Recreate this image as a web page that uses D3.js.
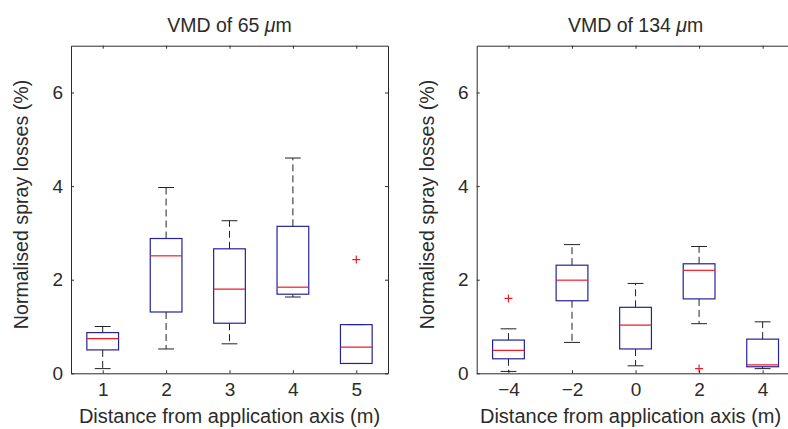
<!DOCTYPE html>
<html lang="en">
<head>
<meta charset="UTF-8">
<title>Normalised spray losses</title>
<script src="https://d3js.org/d3.v7.min.js"></script>
<style>
    body { margin: 0; background: #fff; }
    svg { display: block; font-family: "Liberation Sans", Arial, sans-serif; }
    .tick text { fill: #2b2b2b; }
</style>
</head>
<body>
<svg width="788" height="429"></svg>

<script>
    // Left panel: VMD of 65 um
    const leftPositions = [1, 2, 3, 4, 5];
    const leftLowerWhisker = [0.10, 0.52, 0.63, 1.63, 0.21];
    const leftQ1 = [0.50, 1.31, 1.07, 1.69, 0.21];
    const leftMedian = [0.74, 2.51, 1.80, 1.84, 0.56];
    const leftQ3 = [0.87, 2.88, 2.66, 3.14, 1.04];
    const leftUpperWhisker = [1.00, 3.97, 3.26, 4.60, 1.04];
    const leftOutlierX = [5];
    const leftOutlierY = [2.43];
    const leftXTicks = [1, 2, 3, 4, 5];

    // Right panel: VMD of 134 um
    const rightPositions = [-4, -2, 0, 2, 4];
    const rightLowerWhisker = [0.04, 0.66, 0.16, 1.06, 0.10];
    const rightQ1 = [0.31, 1.55, 0.52, 1.59, 0.14];
    const rightMedian = [0.49, 1.99, 1.03, 2.20, 0.18];
    const rightQ3 = [0.71, 2.31, 1.41, 2.34, 0.73];
    const rightUpperWhisker = [0.95, 2.75, 1.92, 2.71, 1.10];
    const rightOutlierX = [-4, 2];
    const rightOutlierY = [1.60, 0.10];
    const rightXTicks = [-4, -2, 0, 2, 4];

    const yTicks = [0, 2, 4, 6];
    const xLabel = "Distance from application axis (m)";
    const yLabel = "Normalised spray losses (%)";

    const svg = d3.select("svg");

    const panels = [
        {
            size: "65", x0: 71, x1: 388, domain: [0.5, 5.5], half: 0.25, labelShift: 0,
            pos: leftPositions, lo: leftLowerWhisker, q1: leftQ1, med: leftMedian,
            q3: leftQ3, hi: leftUpperWhisker, ox: leftOutlierX, oy: leftOutlierY,
            ticks: leftXTicks
        },
        {
            size: "134", x0: 476.7, x1: 794.4, domain: [-5, 5], half: 0.5, labelShift: -5,
            pos: rightPositions, lo: rightLowerWhisker, q1: rightQ1, med: rightMedian,
            q3: rightQ3, hi: rightUpperWhisker, ox: rightOutlierX, oy: rightOutlierY,
            ticks: rightXTicks
        }
    ];

    const plotTop = 45.7, plotBottom = 373.3;
    const axisColor = "#2b2b2b";
    const fmt = d3.format("d");

    panels.forEach(function(p) {
        const x = d3.scaleLinear().domain(p.domain).range([p.x0, p.x1]);
        const y = d3.scaleLinear().domain([0, 7]).range([plotBottom, plotTop]);
        const g = svg.append("g");

        const boxes = p.pos.map((d, i) => ({
            pos: d, lo: p.lo[i], q1: p.q1[i], med: p.med[i], q3: p.q3[i], hi: p.hi[i]
        }));

        // whiskers (dashed)
        g.selectAll(".whisk-up").data(boxes).enter().append("line")
            .attr("x1", d => x(d.pos)).attr("x2", d => x(d.pos))
            .attr("y1", d => y(d.q3)).attr("y2", d => y(d.hi))
            .attr("stroke", "#222").attr("stroke-width", 1)
            .attr("stroke-dasharray", "7,4");
        g.selectAll(".whisk-lo").data(boxes).enter().append("line")
            .attr("x1", d => x(d.pos)).attr("x2", d => x(d.pos))
            .attr("y1", d => y(d.q1)).attr("y2", d => y(d.lo))
            .attr("stroke", "#222").attr("stroke-width", 1)
            .attr("stroke-dasharray", "7,4");

        // whisker caps
        ["hi", "lo"].forEach(function(k) {
            g.selectAll(".cap-" + k).data(boxes).enter().append("line")
                .attr("x1", d => x(d.pos - p.half / 2)).attr("x2", d => x(d.pos + p.half / 2))
                .attr("y1", d => y(d[k])).attr("y2", d => y(d[k]))
                .attr("stroke", "#222").attr("stroke-width", 1);
        });

        // boxes
        g.selectAll(".box").data(boxes).enter().append("rect")
            .attr("x", d => x(d.pos - p.half))
            .attr("y", d => y(d.q3))
            .attr("width", d => x(d.pos + p.half) - x(d.pos - p.half))
            .attr("height", d => y(d.q1) - y(d.q3))
            .attr("fill", "none").attr("stroke", "#23239a").attr("stroke-width", 1.2);

        // medians
        g.selectAll(".med").data(boxes).enter().append("line")
            .attr("x1", d => x(d.pos - p.half)).attr("x2", d => x(d.pos + p.half))
            .attr("y1", d => y(d.med)).attr("y2", d => y(d.med))
            .attr("stroke", "#ee1c24").attr("stroke-width", 1.2);

        // outliers
        const outs = p.ox.map((d, i) => ({ pos: d, v: p.oy[i] }));
        g.selectAll(".out").data(outs).enter().append("path")
            .attr("transform", d => "translate(" + x(d.pos) + "," + y(d.v) + ")")
            .attr("d", "M-4,0H4M0,-4V4")
            .attr("stroke", "#ee1c24").attr("stroke-width", 1.2);

        // axes, ticks pointing inward
        g.append("g").attr("transform", "translate(0," + plotBottom + ")")
            .call(d3.axisBottom(x).tickValues(p.ticks).tickFormat(fmt).tickSizeInner(-3).tickSizeOuter(0).tickPadding(9));
        g.append("g").attr("transform", "translate(0," + plotTop + ")")
            .call(d3.axisTop(x).tickValues(p.ticks).tickSizeInner(-3).tickSizeOuter(0).tickFormat(""));
        g.append("g").attr("transform", "translate(" + p.x0 + ",0)")
            .call(d3.axisLeft(y).tickValues(yTicks).tickFormat(fmt).tickSizeInner(-3).tickSizeOuter(0).tickPadding(8));
        g.append("g").attr("transform", "translate(" + p.x1 + ",0)")
            .call(d3.axisRight(y).tickValues(yTicks).tickSizeInner(-3).tickSizeOuter(0).tickFormat(""));

        g.selectAll(".domain, .tick line").attr("stroke", axisColor);
        g.selectAll(".tick text").style("font-size", "19px").style("font-family", null);

        const cx = (p.x0 + p.x1) / 2;

        // title
        const t = g.append("text")
            .attr("x", cx).attr("y", 32)
            .attr("text-anchor", "middle")
            .attr("fill", "#2b2b2b")
            .style("font-size", "19.5px");
        t.append("tspan").text("VMD of " + p.size + " ");
        t.append("tspan").style("font-style", "italic").text("μ");
        t.append("tspan").text("m");

        // x label
        g.append("text")
            .attr("x", cx + p.labelShift).attr("y", 423)
            .attr("text-anchor", "middle")
            .attr("fill", "#2b2b2b")
            .style("font-size", "20px")
            .text(xLabel);

        // y label
        g.append("text")
            .attr("transform", "translate(" + (p.x0 - 43) + ",204.5) rotate(-90)")
            .attr("text-anchor", "middle")
            .attr("fill", "#2b2b2b")
            .style("font-size", "19.6px")
            .text(yLabel);
    });
</script>
</body>
</html>
